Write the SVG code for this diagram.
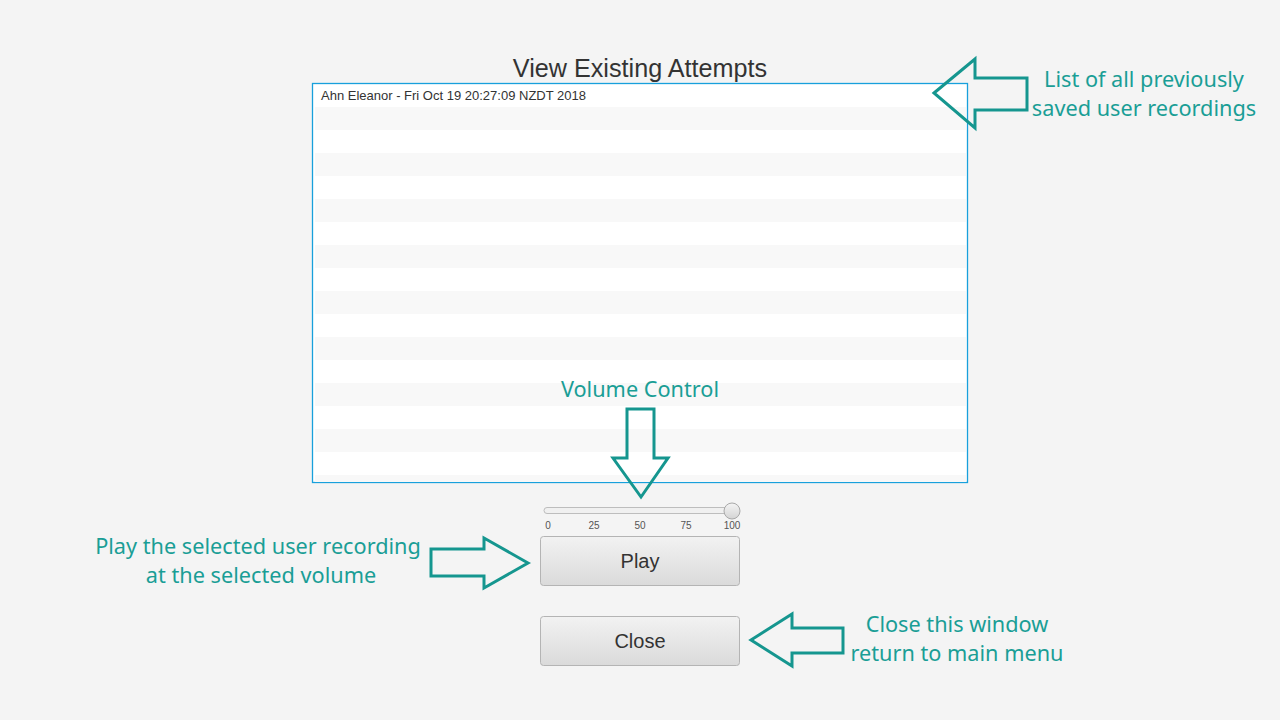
<svg xmlns="http://www.w3.org/2000/svg" width="1280" height="720" viewBox="0 0 1280 720">
<defs>
<linearGradient id="btn" x1="0" y1="0" x2="0" y2="1">
<stop offset="0" stop-color="#f2f2f2"/>
<stop offset="1" stop-color="#dadada"/>
</linearGradient>
<linearGradient id="thumb" x1="0" y1="0" x2="0" y2="1">
<stop offset="0" stop-color="#f4f4f4"/>
<stop offset="1" stop-color="#d4d4d4"/>
</linearGradient>
<style>
.ann{font-family:"Noto Sans","Open Sans",sans-serif;font-size:21.7px;fill:#1a9e96;text-anchor:middle}
.arrow{fill:none;stroke:#15968f;stroke-width:3;stroke-linejoin:miter}
.ui{font-family:"Liberation Sans",Arial,sans-serif;fill:#333333}
.stripe{fill:#f8f8f8}
.btn{fill:url(#btn);stroke:#b4b4b4;stroke-width:1}
.tick{font-family:"Liberation Sans",Arial,sans-serif;font-size:10px;fill:#555555;text-anchor:middle}
</style>
</defs>
<rect width="1280" height="720" fill="#f4f4f4"/>

<g id="title">
<text class="ui" x="640" y="77" font-size="25.2" text-anchor="middle">View Existing Attempts</text>
</g>

<g id="list">
<rect x="312.5" y="83.5" width="655" height="399" fill="#ffffff" stroke="#18a0dc" stroke-width="1.3"/>
<rect class="stripe" x="315" y="107" width="651" height="23"/>
<rect class="stripe" x="315" y="153" width="651" height="23"/>
<rect class="stripe" x="315" y="199" width="651" height="23"/>
<rect class="stripe" x="315" y="245" width="651" height="23"/>
<rect class="stripe" x="315" y="291" width="651" height="23"/>
<rect class="stripe" x="315" y="337" width="651" height="23"/>
<rect class="stripe" x="315" y="383" width="651" height="23"/>
<rect class="stripe" x="315" y="429" width="651" height="23"/>
<rect class="stripe" x="315" y="475" width="651" height="7"/>
<text class="ui" x="321" y="100" font-size="13">Ahn Eleanor - Fri Oct 19 20:27:09 NZDT 2018</text>
</g>

<g id="slider">
<rect x="544" y="507.5" width="192" height="6" rx="3" fill="#f0f0f0" stroke="#bdbdbd" stroke-width="1"/>
<circle cx="732" cy="511" r="8" fill="url(#thumb)" stroke="#a8a8a8" stroke-width="1"/>
<text class="tick" x="548" y="529">0</text>
<text class="tick" x="594" y="529">25</text>
<text class="tick" x="640" y="529">50</text>
<text class="tick" x="686" y="529">75</text>
<text class="tick" x="732" y="529">100</text>
</g>

<g id="play-button">
<rect class="btn" x="540.5" y="536.5" width="199" height="49" rx="3"/>
<text class="ui" x="640" y="568" font-size="20" text-anchor="middle">Play</text>
</g>

<g id="close-button">
<rect class="btn" x="540.5" y="616.5" width="199" height="49" rx="3"/>
<text class="ui" x="640" y="648" font-size="20" text-anchor="middle">Close</text>
</g>

<g id="ann-list">
<text class="ann" x="1144" y="87">List of all previously</text>
<text class="ann" x="1144" y="116">saved user recordings</text>
</g>
<g id="ann-volume">
<text class="ann" x="640" y="397">Volume Control</text>
</g>
<g id="ann-play">
<text class="ann" x="258" y="554">Play the selected user recording</text>
<text class="ann" x="261" y="583">at the selected volume</text>
</g>
<g id="ann-close">
<text class="ann" x="957" y="632">Close this window</text>
<text class="ann" x="957" y="661">return to main menu</text>
</g>

<g id="connectors">
<polygon class="arrow" points="934,93 975,59 975,78 1027,78 1027,110 975,110 975,128"/>
<polygon class="arrow" points="641,497 613,458 627,458 627,409 654,409 654,458 668,458"/>
<polygon class="arrow" points="528,563 484,538 484,549 431,549 431,576 484,576 484,588"/>
<polygon class="arrow" points="751,640 792,614 792,628 843,628 843,653 792,653 792,666"/>
</g>
</svg>
